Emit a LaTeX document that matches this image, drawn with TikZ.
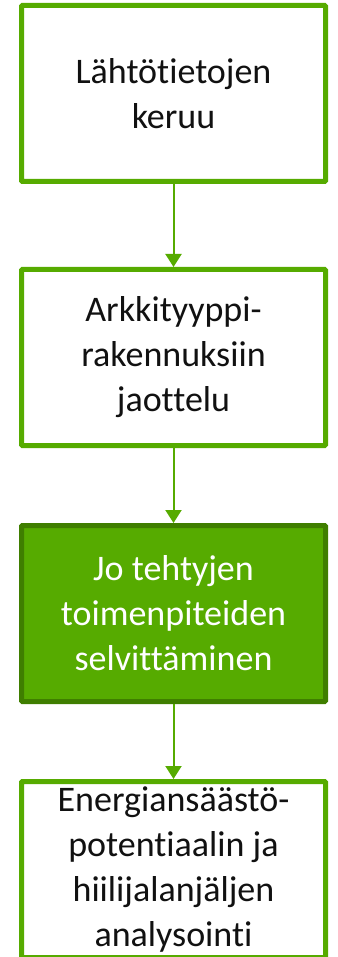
\documentclass[tikz,border=0pt]{standalone}
\usepackage{fontspec}
\setmainfont[Ligatures={NoCommon}]{Carlito}
\usetikzlibrary{arrows.meta}
\definecolor{grn}{HTML}{56AB00}
\definecolor{dgrn}{HTML}{3F7E00}
\definecolor{txt}{HTML}{111111}
\tikzset{
  stepbox/.style={draw=grn, line width=5pt, fill=white, rectangle, rounded corners=1pt,
    minimum width=304pt, minimum height=176pt, inner sep=0pt, align=center,
    text=txt, font=\fontsize{36pt}{45pt}\selectfont},
  activebox/.style={stepbox, draw=dgrn, fill=grn, text=white},
  flow/.style={draw=grn, line width=2pt, -{Triangle[width=16pt,length=13pt]}}
}
\begin{document}
\begin{tikzpicture}[x=1pt,y=-1pt]
\useasboundingbox (0,0) rectangle (337,957);
\begin{scope}
\clip (0,0) rectangle (337,957);
\node[stepbox] (b1) at (173.5,93.5) {Lähtötietojen\\keruu};
\node[stepbox] (b2) at (173.5,357.5) {Arkkityyppi-\\rakennuksiin\\jaottelu};
\node[activebox] (b3) at (173.5,613.5) {Jo tehtyjen\\toimenpiteiden\\selvittäminen};
\node[stepbox] (b4) at (173.5,869.5) {Energiansäästö-\\potentiaalin ja\\hiilijalanjäljen\\analysointi};
\draw[flow] (b1.south) -- (b2.north);
\draw[flow] (b2.south) -- (b3.north);
\draw[flow] (b3.south) -- (b4.north);
\end{scope}
\end{tikzpicture}
\end{document}
